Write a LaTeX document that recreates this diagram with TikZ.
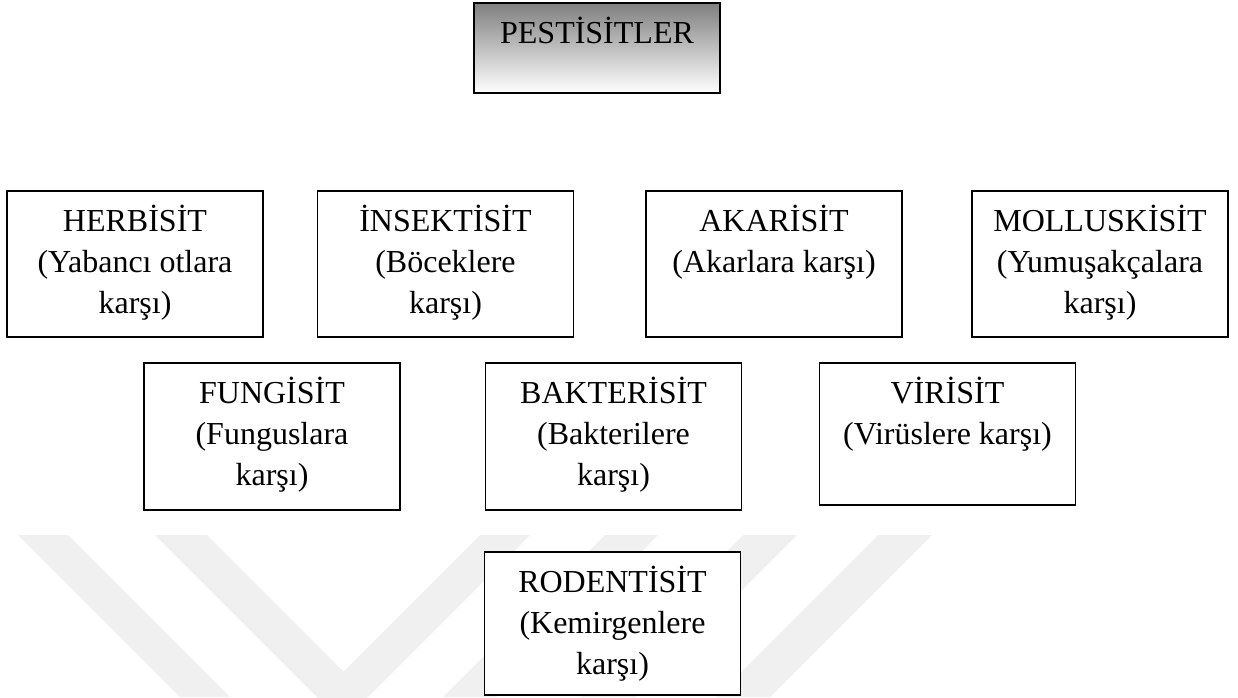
\documentclass[tikz,border=0pt]{standalone}
\usepackage{fontspec}
\setmainfont{Liberation Serif}
\tikzstyle{every node}=[draw, line width=0.9pt, fill=white, inner sep=0pt, font=\fontsize{16}{20.5}\selectfont]
\tikzstyle{stripe}=[fill=black!6, draw=none]

\begin{document}
\begin{tikzpicture}[x=0.5pt, y=-0.5pt]
\useasboundingbox (0,0) rectangle (1238,697);
% Watermark
\begin{scope}
    \clip (0,0) rectangle (1238,697);
    \fill[stripe] (18,535) -- (68,535) -- (230,697) -- (180,697) -- cycle;
    \fill[stripe] (155,535) -- (207,535) -- (343.5,671.5) -- (480,535) -- (530,535) -- (342.5,722.5) -- cycle;
    \fill[stripe] (605,535) -- (658,535) -- (496,697) -- (443,697) -- cycle;
    \fill[stripe] (743,535) -- (797,535) -- (635,697) -- (581,697) -- cycle;
    \fill[stripe] (878,535) -- (932,535) -- (770,697) -- (716,697) -- cycle;
\end{scope}
% Title
    \node[top color=black!50, bottom color=white] (pest) at (597,48)
        {\parbox[c][45pt][t]{123pt}{\centering\rule{0pt}{20pt}PESTİSİTLER}};
% First row
    \node (herb) at (135,264)
        {\parbox[c][73pt][t]{128pt}{\centering\rule{0pt}{20pt}HERBİSİT\\(Yabancı otlara\\karşı)}};
    \node (insekt) at (445.5,264)
        {\parbox[c][73pt][t]{128pt}{\centering\rule{0pt}{20pt}İNSEKTİSİT\\(Böceklere\\karşı)}};
    \node (akar) at (774,264)
        {\parbox[c][73pt][t]{128pt}{\centering\rule{0pt}{20pt}AKARİSİT\\(Akarlara karşı)}};
    \node (mollusk) at (1100,264)
        {\parbox[c][73pt][t]{128pt}{\centering\rule{0pt}{20pt}MOLLUSKİSİT\\(Yumuşakçalara\\karşı)}};
% Second row
    \node (fung) at (272,436.5)
        {\parbox[c][73.5pt][t]{128pt}{\centering\rule{0pt}{20pt}FUNGİSİT\\(Funguslara\\karşı)}};
    \node (bakter) at (613.5,436.5)
        {\parbox[c][73.5pt][t]{128pt}{\centering\rule{0pt}{20pt}BAKTERİSİT\\(Bakterilere\\karşı)}};
    \node (viri) at (947.5,434)
        {\parbox[c][71pt][t]{128pt}{\centering\rule{0pt}{20pt}VİRİSİT\\(Virüslere karşı)}};
% Last row
    \node (rodent) at (612.5,623.5)
        {\parbox[c][71.5pt][t]{128pt}{\centering\rule{0pt}{20pt}RODENTİSİT\\(Kemirgenlere\\karşı)}};
\end{tikzpicture}
\end{document}
